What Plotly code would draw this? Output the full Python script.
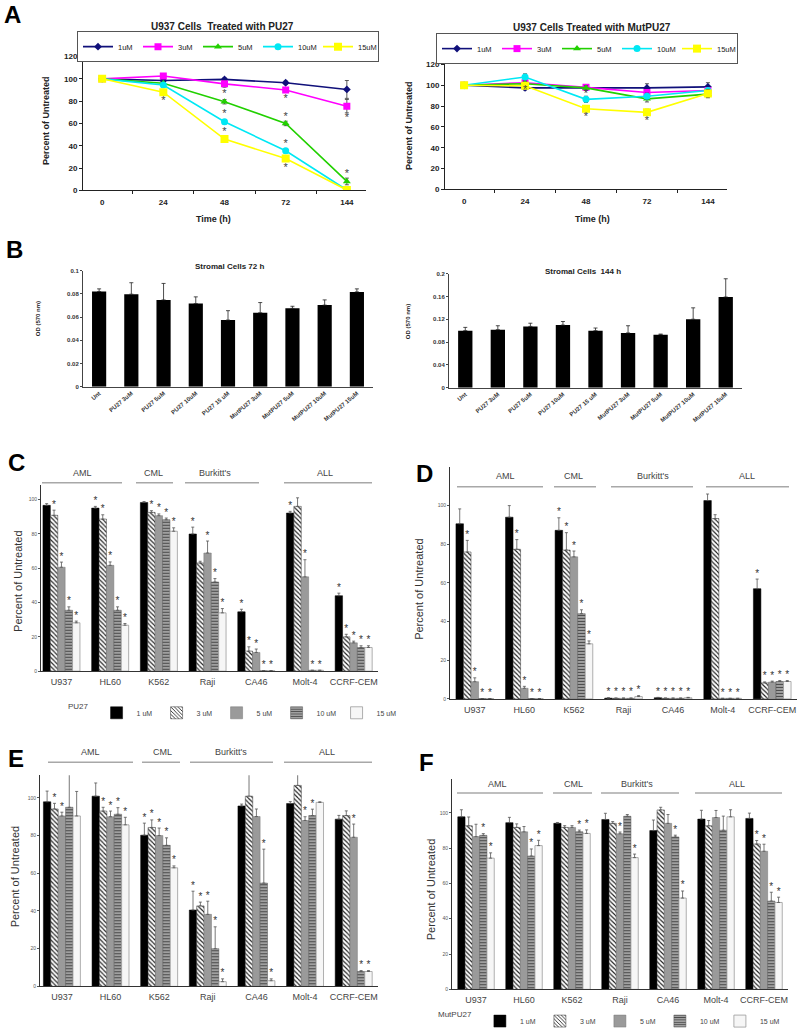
import plotly.graph_objects as go

W, H = 800, 1036
FONT = "Liberation Sans, Arial, sans-serif"

# ---------------- Panel A : time course ----------------
time_h = ["0", "24", "48", "72", "144"]
conc_A = ["1uM", "3uM", "5uM", "10uM", "15uM"]

pu27_1uM = [100, 98.5, 99.5, 96.5, 90.5]
pu27_3uM = [100, 102.5, 95.5, 90, 75.5]
pu27_5uM = [100, 96, 79.5, 60, 8]
pu27_10uM = [100, 94.5, 61.5, 35.5, 0.3]
pu27_15uM = [100, 88, 46, 28.5, 0.3]
pu27_1uM_err = [0, 1, 1.5, 1.5, 8]
pu27_3uM_err = [0, 2, 3, 2, 6]
pu27_5uM_err = [0, 1, 2, 2, 3]
pu27_10uM_err = [0, 1, 2, 2, 0.5]
pu27_15uM_err = [0, 1, 1.5, 2, 0.5]
pu27_star_x = ["24", "48", "48", "48", "72", "72", "72", "72", "144", "144"]
pu27_star_y = [80, 86, 68, 52, 82, 66, 41, 19.5, 64.5, 14.5]

mut_1uM = [100, 97.5, 97.5, 97.5, 98.5]
mut_3uM = [100, 102.5, 98, 93, 95]
mut_5uM = [100, 101.5, 97.5, 87, 91.5]
mut_10uM = [100, 108, 86.5, 89.5, 95]
mut_15uM = [100, 99.5, 77.5, 74, 92]
mut_1uM_err = [0, 2, 2, 4, 4]
mut_3uM_err = [0, 3, 2, 3, 3]
mut_5uM_err = [0, 2, 2, 3, 3]
mut_10uM_err = [0, 3, 3, 3, 2]
mut_15uM_err = [0, 2, 3, 3, 4]
mut_star_x = ["24", "48", "48", "72"]
mut_star_y = [95.5, 91, 69.5, 65.5]

colors_A = ["#10107a", "#ff00ff", "#22d000", "#00e8f4", "#ffff00"]
symbols_A = ["diamond", "square", "triangle-up", "circle", "square"]
sizes_A = [6, 7, 7, 7, 8]

# ---------------- Panel B : stromal cells ----------------
b_cats = ["Unt", "PU27 3uM", "PU27 5uM", "PU27 10uM", "PU27 15 uM",
          "MutPU27 3uM", "MutPU27 5uM", "MutPU27 10uM", "MutPU27 15uM"]
od_72h = [0.082, 0.0797, 0.0748, 0.0716, 0.0574, 0.0637, 0.0675, 0.0703, 0.0817]
od_72h_err = [0.0023, 0.0099, 0.0142, 0.0058, 0.0081, 0.0088, 0.0018, 0.0045, 0.0026]
od_144h = [0.100, 0.1017, 0.1074, 0.1097, 0.100, 0.096, 0.093, 0.120, 0.159]
od_144h_err = [0.0057, 0.0069, 0.0056, 0.0063, 0.0046, 0.0126, 0.001, 0.020, 0.032]

# ---------------- Panels C-F : cell lines ----------------
cell_lines = ["U937", "HL60", "K562", "Raji", "CA46", "Molt-4", "CCRF-CEM"]
conc_bar = ["1 uM", "3 uM", "5 uM", "10 uM", "15 uM"]

# C: PU27 (72 h)
c_1 = [96.7, 95.1, 98.4, 80.0, 34.6, 92.2, 44.0]
c_3 = [90.9, 88.7, 92.6, 63.1, 11.7, 96.1, 20.0]
c_5 = [60.6, 61.7, 90.7, 68.9, 10.9, 55.0, 16.5]
c_10 = [35.5, 35.5, 88.3, 52.0, 0.3, 0.5, 13.8]
c_15 = [28.2, 26.8, 81.6, 34.0, 0.3, 0.5, 13.8]
c_1e = [1, 1, 0.5, 4, 1.5, 1, 1.5]
c_3e = [3, 2.5, 1, 1, 2.5, 5, 1.5]
c_5e = [3, 2, 1, 7, 2, 10, 1]
c_10e = [2, 2, 1, 2, 0, 0, 1]
c_15e = [1, 1, 2, 2.5, 0, 0, 1]
c_1s = [0, 1, 0, 1, 1, 1, 1]
c_3s = [1, 1, 1, 0, 1, 0, 1]
c_5s = [1, 1, 1, 1, 1, 1, 1]
c_10s = [1, 1, 1, 1, 1, 1, 1]
c_15s = [1, 1, 1, 1, 1, 1, 1]

# D: PU27 (144 h)
d_1 = [90.6, 94.0, 87.2, 0.4, 0.6, 102.6, 57.0]
d_3 = [76.0, 77.4, 77.0, 0.3, 0.3, 93.3, 8.3]
d_5 = [8.9, 5.5, 73.5, 0.3, 0.3, 0.3, 8.7]
d_10 = [0.2, 0.2, 44.1, 0.3, 0.3, 0.3, 9.0]
d_15 = [0.2, 0.2, 28.5, 1.2, 0.6, 0.3, 9.0]
d_1e = [7.7, 6, 6.5, 0.2, 0.2, 3.4, 5]
d_3e = [6, 5, 9, 0.2, 0.2, 2, 0.5]
d_5e = [2, 1, 3, 0.2, 0.2, 0, 0.5]
d_10e = [0, 0, 2, 0.2, 0.2, 0, 0.5]
d_15e = [0, 0, 1.5, 0.5, 0.2, 0, 0.5]
d_1s = [0, 0, 1, 1, 1, 0, 1]
d_3s = [1, 1, 1, 1, 1, 0, 1]
d_5s = [1, 1, 1, 1, 1, 1, 1]
d_10s = [1, 1, 1, 1, 1, 1, 1]
d_15s = [1, 1, 1, 1, 1, 1, 1]

# E: MutPU27 (72 h)
e_1 = [97.9, 100.9, 80.2, 40.5, 95.7, 97.0, 88.7]
e_3 = [94.1, 93.0, 84.3, 42.7, 100.9, 106.6, 90.6]
e_5 = [90.4, 90.0, 80.0, 38.2, 90.1, 88.0, 79.1]
e_10 = [95.0, 91.3, 74.8, 20.0, 54.8, 90.6, 7.9]
e_15 = [90.4, 85.7, 62.9, 2.5, 3.0, 97.6, 7.9]
e_1e = [5.7, 7, 6.4, 10, 1, 1, 2]
e_3e = [3, 2, 4, 2, 14.4, 7.5, 2.5]
e_5e = [2, 3, 4, 7, 4, 2, 7]
e_10e = [17.7, 3.5, 4, 11.6, 18, 3.4, 0.5]
e_15e = [13, 4, 1, 1.5, 1, 0.3, 0.5]
e_1s = [0, 0, 1, 1, 0, 0, 0]
e_3s = [1, 1, 1, 1, 0, 0, 0]
e_5s = [1, 1, 1, 1, 0, 1, 1]
e_10s = [0, 1, 1, 1, 1, 1, 1]
e_15s = [0, 1, 1, 1, 1, 0, 1]

# F: MutPU27 (144 h)
f_1 = [97.7, 94.4, 94.0, 96.2, 89.9, 96.4, 96.8]
f_3 = [92.6, 91.7, 91.7, 94.0, 101.6, 92.6, 82.3]
f_5 = [86.5, 89.2, 91.7, 88.1, 94.0, 97.3, 78.2]
f_10 = [87.2, 75.5, 89.2, 98.0, 86.3, 90.1, 50.0]
f_15 = [74.3, 81.4, 88.3, 74.6, 51.7, 97.7, 49.2]
f_1e = [4, 3, 0.5, 3.5, 6, 5, 3]
f_3e = [5, 2, 1, 1, 1.5, 3, 2]
f_5e = [7, 3, 1, 1, 5, 4, 4]
f_10e = [1, 4, 1, 1, 1, 8, 5]
f_15e = [3, 3, 2, 2, 4, 4, 3]
f_1s = [0, 0, 0, 0, 0, 0, 0]
f_3s = [0, 0, 0, 0, 0, 0, 1]
f_5s = [0, 0, 0, 1, 0, 0, 1]
f_10s = [1, 1, 1, 0, 1, 0, 1]
f_15s = [1, 1, 1, 1, 1, 0, 1]

group_names = ["AML", "CML", "Burkitt's", "ALL"]

# ---------------- helpers ----------------
def dx(l, r):
    return [l / W, r / W]

def dy(top, bottom):
    return [1 - bottom / H, 1 - top / H]

def px(v):
    return v / W

def py(v):
    return 1 - v / H

fig = go.Figure()
annotations = []
shapes = []

# ---- Panel A traces ----
def add_time_panel(series, errs, xa, ya, legend, star_x, star_y):
    for i, (vals, err) in enumerate(zip(series, errs)):
        fig.add_trace(go.Scatter(
            x=time_h, y=vals, name=conc_A[i], mode="lines+markers",
            xaxis=xa, yaxis=ya, legend=legend,
            line=dict(color=colors_A[i], width=1.6),
            marker=dict(symbol=symbols_A[i], size=sizes_A[i], color=colors_A[i]),
            error_y=dict(type="data", array=err, color="#333333", thickness=0.8, width=2),
        ))
    fig.add_trace(go.Scatter(
        x=star_x, y=star_y, mode="text", text=["*"] * len(star_x),
        textfont=dict(size=11, color="#444444", family=FONT),
        xaxis=xa, yaxis=ya, showlegend=False, hoverinfo="skip"))

add_time_panel([pu27_1uM, pu27_3uM, pu27_5uM, pu27_10uM, pu27_15uM],
               [pu27_1uM_err, pu27_3uM_err, pu27_5uM_err, pu27_10uM_err, pu27_15uM_err],
               "x", "y", "legend", pu27_star_x, pu27_star_y)
add_time_panel([mut_1uM, mut_3uM, mut_5uM, mut_10uM, mut_15uM],
               [mut_1uM_err, mut_3uM_err, mut_5uM_err, mut_10uM_err, mut_15uM_err],
               "x2", "y2", "legend2", mut_star_x, mut_star_y)

# ---- Panel B traces ----
for vals, err, xa, ya in [(od_72h, od_72h_err, "x3", "y3"), (od_144h, od_144h_err, "x4", "y4")]:
    fig.add_trace(go.Bar(
        x=b_cats, y=vals, width=0.44, xaxis=xa, yaxis=ya, showlegend=False,
        marker=dict(color="black", line=dict(width=0)),
        error_y=dict(type="data", array=err, arrayminus=[0] * len(err), symmetric=False,
                     color="#222222", thickness=0.8, width=2),
    ))

# ---- Panels C-F traces ----
bar_styles = [
    dict(color="black", line=dict(color="black", width=0.5)),
    dict(color="white", line=dict(color="#333333", width=0.5),
         pattern=dict(shape="\\", fgcolor="#222222", bgcolor="white", size=3.2, solidity=0.35, fillmode="replace")),
    dict(color="#9a9a9a", line=dict(color="#777777", width=0.5)),
    dict(color="#8a8a8a", line=dict(color="#555555", width=0.5),
         pattern=dict(shape="-", fgcolor="#4a4a4a", bgcolor="#a0a0a0", size=3, solidity=0.35, fillmode="replace")),
    dict(color="#f6f6f6", line=dict(color="#9a9a9a", width=0.8)),
]
BARGAP = 0.24
BW = (1 - BARGAP) / 5

def add_cell_panel(vals, errs, stars, xa, ya, legend, show):
    sx, sy = [], []
    for k in range(5):
        fig.add_trace(go.Bar(
            x=list(range(len(cell_lines))), y=vals[k], name=conc_bar[k],
            xaxis=xa, yaxis=ya, legend=legend, showlegend=show,
            marker=bar_styles[k],
            error_y=dict(type="data", array=errs[k], arrayminus=[0] * 7, symmetric=False,
                         color="#555555", thickness=0.8, width=1.5),
        ))
        for i in range(len(cell_lines)):
            if stars[k][i]:
                sx.append(i + (k - 2) * BW)
                sy.append(vals[k][i] + errs[k][i])
    fig.add_trace(go.Scatter(
        x=sx, y=sy, mode="text", text=["*"] * len(sx), textposition="top center",
        textfont=dict(size=10, color="#333333", family=FONT),
        xaxis=xa, yaxis=ya, showlegend=False, hoverinfo="skip"))

add_cell_panel([c_1, c_3, c_5, c_10, c_15], [c_1e, c_3e, c_5e, c_10e, c_15e],
               [c_1s, c_3s, c_5s, c_10s, c_15s], "x5", "y5", "legend3", True)
add_cell_panel([d_1, d_3, d_5, d_10, d_15], [d_1e, d_3e, d_5e, d_10e, d_15e],
               [d_1s, d_3s, d_5s, d_10s, d_15s], "x6", "y6", "legend3", False)
add_cell_panel([e_1, e_3, e_5, e_10, e_15], [e_1e, e_3e, e_5e, e_10e, e_15e],
               [e_1s, e_3s, e_5s, e_10s, e_15s], "x7", "y7", "legend4", False)
add_cell_panel([f_1, f_3, f_5, f_10, f_15], [f_1e, f_3e, f_5e, f_10e, f_15e],
               [f_1s, f_3s, f_5s, f_10s, f_15s], "x8", "y8", "legend4", True)

# ---------------- axes ----------------
def time_x(domain, anchor):
    return dict(domain=domain, anchor=anchor, type="category", showline=True, linecolor="#222",
                linewidth=1, ticks="outside", ticklen=3, tickcolor="#222", tickson="boundaries",
                tickfont=dict(size=8, family=FONT, color="#222", weight="bold"),
                ticklabelstandoff=4, showgrid=False, zeroline=False, fixedrange=True)

def time_y(domain, anchor):
    return dict(domain=domain, anchor=anchor, range=[0, 120], dtick=20, showline=True,
                linecolor="#222", linewidth=1, ticks="outside", ticklen=3, tickcolor="#222",
                tickfont=dict(size=8, family=FONT, color="#222", weight="bold"),
                showgrid=False, zeroline=False)

def b_x(domain, anchor):
    return dict(domain=domain, anchor=anchor, type="category", showline=True, linecolor="#444",
                linewidth=1, ticks="", tickangle=-40,
                tickfont=dict(size=6, family=FONT, color="#333", weight="bold"),
                showgrid=False, zeroline=False)

def b_y(domain, anchor, top, step):
    return dict(domain=domain, anchor=anchor, range=[0, top], dtick=step, showline=True,
                linecolor="#444", linewidth=1, ticks="outside", ticklen=2, tickcolor="#444",
                tickfont=dict(size=6, family=FONT, color="#333", weight="bold"),
                showgrid=False, zeroline=False)

def cell_x(domain, anchor, rng):
    return dict(domain=domain, anchor=anchor, range=rng, tickmode="array",
                tickvals=list(range(len(cell_lines))), ticktext=cell_lines, showline=True,
                linecolor="#333", linewidth=1, ticks="", ticklabelstandoff=2, tickangle=0,
                tickfont=dict(size=9, family=FONT, color="#444"),
                showgrid=False, zeroline=False)

def cell_y(domain, anchor, top):
    return dict(domain=domain, anchor=anchor, range=[0, top], tickvals=[0, 20, 40, 60, 80, 100],
                showline=True, linecolor="#333", linewidth=1, ticks="outside", ticklen=2,
                tickcolor="#555", tickfont=dict(size=5, family=FONT, color="#555"),
                showgrid=False, zeroline=False)

layout_axes = dict(
    xaxis=time_x(dx(83, 366), "y"), yaxis=time_y(dy(53, 188), "x"),
    xaxis2=time_x(dx(445, 727), "y2"), yaxis2=time_y(dy(61, 187), "x2"),
    xaxis3=b_x(dx(83, 373), "y3"), yaxis3=b_y(dy(269, 386), "x3", 0.1, 0.02),
    xaxis4=b_x(dx(449, 742), "y4"), yaxis4=b_y(dy(272, 387), "x4", 0.2, 0.04),
    xaxis5=cell_x(dx(41, 378), "y5", [-0.42, 6.5]), yaxis5=cell_y(dy(485, 673), "x5", 108.7),
    xaxis6=cell_x(dx(450, 797), "y6", [-0.5, 6.5]), yaxis6=cell_y(dy(467, 701), "x6", 120),
    xaxis7=cell_x(dx(40, 378), "y7", [-0.45, 6.5]), yaxis7=cell_y(dy(778, 991), "x7", 112),
    xaxis8=cell_x(dx(452, 788), "y8", [-0.5, 6.5]), yaxis8=cell_y(dy(782, 994), "x8", 119),
)

# ---------------- text annotations ----------------
def ann(text, x, y, size, bold=False, color="#222", angle=0, xanchor="center", yanchor="middle"):
    annotations.append(dict(text=f"<b>{text}</b>" if bold else text, x=px(x), y=py(y),
                            xref="paper", yref="paper", showarrow=False, textangle=angle,
                            xanchor=xanchor, yanchor=yanchor,
                            font=dict(size=size, family=FONT, color=color)))

# panel letters
for letter, x, y in [("A", 2, 11), ("B", 4, 248), ("C", 6, 463), ("D", 414, 474),
                     ("E", 6, 761), ("F", 417, 765)]:
    ann(letter, x, y, 24, bold=True, color="black", xanchor="left")

# panel A titles and labels
ann("U937 Cells  Treated with PU27", 222, 23, 10, bold=True)
ann("U937 Cells Treated with MutPU27", 592, 24, 10, bold=True)
ann("Percent of Untreated", 46, 118, 9, bold=True, angle=-90)
ann("Percent of Untreated", 409, 123, 9, bold=True, angle=-90)
ann("Time (h)", 213, 217, 9, bold=True)
ann("Time (h)", 592, 217, 9, bold=True)

# panel B titles and labels
ann("Stromal Cells 72 h", 230, 265, 8, bold=True)
ann("Stromal Cells  144 h", 583, 270, 8, bold=True)
ann("OD (570 nm)", 38, 318, 6, bold=True, angle=-90)
ann("OD (570 nm)", 408, 321, 6, bold=True, angle=-90)

# panels C-F y labels
ann("Percent of Untreated", 18, 582, 11, color="#333", angle=-90)
ann("Percent of Untreated", 419, 590, 11, color="#333", angle=-90)
ann("Percent of Untreated", 15, 880, 11, color="#333", angle=-90)
ann("Percent of Untreated", 431, 893, 11, color="#333", angle=-90)

# disease group headers with rules
group_layout = [
    (473, 483, [(42, 122, 82), (136, 173, 153), (185, 259, 215), (284, 372, 325)]),
    (476, 487, [(457, 543, 505), (554, 596, 573), (611, 693, 653), (706, 789, 747)]),
    (755, 765, [(48, 133, 90), (142, 180, 162), (190, 273, 231), (284, 372, 327)]),
    (787, 796, [(457, 543, 497), (553, 592, 573), (601, 679, 637), (695, 782, 737)]),
]
for ty, ly, spans in group_layout:
    for name, (x0, x1, tx) in zip(group_names, spans):
        ann(name, tx, ty, 9, color="#444")
        shapes.append(dict(type="line", xref="paper", yref="paper", x0=px(x0), x1=px(x1),
                           y0=py(ly), y1=py(ly), line=dict(color="#a8a8a8", width=1.5)))

fig.update_layout(
    width=W, height=H, margin=dict(l=0, r=0, t=0, b=0),
    paper_bgcolor="white", plot_bgcolor="white",
    barmode="group", bargap=BARGAP, bargroupgap=0,
    font=dict(family=FONT, color="#222"),
    annotations=annotations, shapes=shapes,
    legend=dict(x=px(228), y=py(43), xanchor="center", yanchor="middle", orientation="h",
                bordercolor="#555", borderwidth=1, bgcolor="white", itemwidth=30,
                entrywidth=15, font=dict(size=7.5, family=FONT, color="#222")),
    legend2=dict(x=px(587), y=py(45), xanchor="center", yanchor="middle", orientation="h",
                 bordercolor="#555", borderwidth=1, bgcolor="white", itemwidth=30,
                 entrywidth=15, font=dict(size=7.5, family=FONT, color="#222")),
    legend3=dict(x=px(66), y=py(715), xanchor="left", yanchor="middle", orientation="h",
                 title=dict(text="PU27", side="left", font=dict(size=8, color="#444")),
                 itemwidth=30, entrywidth=15,
                 font=dict(size=7, family=FONT, color="#444"), bgcolor="rgba(0,0,0,0)"),
    legend4=dict(x=px(436), y=py(1026), xanchor="left", yanchor="middle", orientation="h",
                 title=dict(text="MutPU27", side="left", font=dict(size=8, color="#444")),
                 itemwidth=30, entrywidth=15,
                 font=dict(size=7, family=FONT, color="#444"), bgcolor="rgba(0,0,0,0)"),
    **layout_axes,
)

fig.write_html("out.html",
               config={"displayModeBar": False},
               post_script="document.body.style.margin='0';document.body.style.padding='0';")
